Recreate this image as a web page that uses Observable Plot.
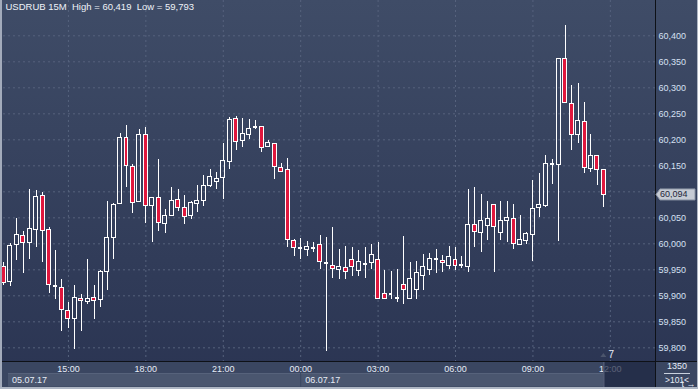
<!DOCTYPE html>
<html><head><meta charset="utf-8">
<script src="https://cdn.jsdelivr.net/npm/d3@7"></script>
<script src="https://cdn.jsdelivr.net/npm/@observablehq/plot@0.6"></script>
<style>
html,body{margin:0;padding:0;background:#2f3956;overflow:hidden}
#chart svg{display:block}
</style>
</head><body><div id="chart"></div>
<script>
// ---- data (USDRUB 15M, 05.07.17 12:30 -> 06.07.17 11:45) ----
const symbolTitle = "USDRUB 15M  High = 60,419  Low = 59,793";
const startTime = "2017-07-05T12:30:00Z";
const open = [59.956,59.926,59.998,60.015,60.002,60.027,60.092,60.027,59.918,59.915,59.871,59.856,59.894,59.888,59.896,59.892,59.946,60.012,60.077,60.204,60.148,60.081,60.210,60.073,60.088,60.038,60.054,60.085,60.069,60.054,60.077,60.083,60.112,60.119,60.127,60.158,60.240,60.198,60.210,60.225,60.225,60.187,60.192,60.146,60.142,60.006,59.992,59.988,59.992,59.998,59.964,59.958,59.950,59.954,59.969,59.948,59.961,59.963,59.969,59.904,59.904,59.896,59.921,59.893,59.911,59.938,59.950,59.971,59.967,59.958,59.969,59.960,59.955,60.037,60.021,60.035,60.075,60.021,60.044,60.048,59.998,60.006,60.017,60.069,60.073,60.153,60.152,60.356,60.269,60.210,60.235,60.144,60.169,60.142];
const high = [59.964,60.000,60.049,60.024,60.104,60.103,60.099,60.031,59.987,59.931,59.887,59.920,59.903,59.970,59.920,59.949,60.081,60.078,60.213,60.228,60.152,60.219,60.223,60.089,60.163,60.066,60.108,60.104,60.093,60.081,60.112,60.131,60.142,60.138,60.193,60.243,60.245,60.241,60.239,60.237,60.226,60.198,60.193,60.154,60.165,60.008,60.011,60.004,60.003,60.016,60.012,60.031,59.989,59.995,59.993,59.987,59.993,59.999,60.003,59.949,59.947,59.951,60.014,59.964,59.966,59.979,59.981,59.989,59.977,59.995,59.993,59.975,60.104,60.108,60.095,60.081,60.076,60.081,60.081,60.075,60.054,60.021,60.121,60.135,60.169,60.163,60.357,60.419,60.304,60.308,60.271,60.210,60.170,60.143];
const low = [59.920,59.918,59.967,59.943,59.970,59.993,59.965,59.904,59.893,59.832,59.838,59.797,59.832,59.884,59.855,59.878,59.911,59.970,60.076,60.109,60.059,60.080,60.040,60.003,60.024,60.020,60.053,60.063,60.038,60.047,60.060,60.072,60.108,60.105,60.086,60.143,60.180,60.185,60.201,60.219,60.175,60.186,60.124,60.137,59.992,59.976,59.970,59.976,59.984,59.951,59.793,59.934,59.932,59.932,59.938,59.938,59.934,59.950,59.893,59.892,59.892,59.888,59.884,59.892,59.893,59.911,59.940,59.942,59.944,59.950,59.948,59.952,59.945,59.993,59.984,60.007,59.945,60.007,60.002,59.990,59.998,59.998,59.966,60.050,60.069,60.115,60.005,60.270,60.180,60.192,60.136,60.138,60.113,60.070];
const close = [59.925,59.996,60.017,60.002,60.029,60.090,60.025,59.921,59.918,59.873,59.856,59.896,59.890,59.894,59.890,59.946,60.012,60.075,60.204,60.150,60.079,60.210,60.073,60.088,60.040,60.054,60.083,60.069,60.052,60.079,60.083,60.112,60.129,60.125,60.160,60.238,60.196,60.212,60.221,60.225,60.185,60.194,60.148,60.138,60.008,59.992,59.992,59.993,59.992,59.965,59.964,59.952,59.956,59.946,59.956,59.965,59.961,59.979,59.894,59.894,59.904,59.896,59.912,59.933,59.944,59.956,59.971,59.971,59.963,59.975,59.958,59.960,60.037,60.023,60.044,60.048,60.033,60.044,60.050,60.000,60.008,60.019,60.067,60.075,60.154,60.153,60.356,60.271,60.210,60.237,60.146,60.169,60.142,60.094];
const priceTicks = [59.80,59.85,59.90,59.95,60.00,60.05,60.10,60.15,60.20,60.25,60.30,60.35,60.40];
const timeTicks = ["2017-07-05T15:00Z","2017-07-05T18:00Z","2017-07-05T21:00Z","2017-07-06T00:00Z","2017-07-06T03:00Z","2017-07-06T06:00Z","2017-07-06T09:00Z","2017-07-06T12:00Z"];
const dateLabels = ["05.07.17","06.07.17"];
const dateStarts = ["2017-07-05T00:00Z","2017-07-06T00:00Z"];
const footerTop = "1350", footerBottom = ">101<", barMarker = "7";

// ---- build table ----
const t0 = new Date(startTime).getTime();
const data = open.map((o, i) => ({t: new Date(t0 + i * 15 * 60000), o, h: high[i], l: low[i], c: close[i]}));
const isDoji = d => Math.abs(d.o - d.c) < 0.0012;
const half = 4.6 * 60000;
const x1 = d => new Date(d.t.getTime() - half), x2 = d => new Date(d.t.getTime() + half);
const fmtP = v => d3.format(".3f")(v).replace(".", ",");
const RED = "#e0173d", WHITE = "#ffffff", GRID = "#56627d";
const tTicks = timeTicks.map(s => new Date(s));
const FONT = "'Liberation Sans', Arial, sans-serif";
const crisp = {shapeRendering: "crispEdges"};

const chart = Plot.plot({
  width: 698, height: 389,
  marginLeft: 3, marginRight: 43, marginTop: 0, marginBottom: 28,
  style: {background: "linear-gradient(#3f4c67, #2a3452)", fontFamily: FONT, fontSize: "9px", color: "#dbe4f4", overflow: "visible"},
  x: {type: "utc", domain: [new Date("2017-07-05T12:29:00Z"), new Date("2017-07-06T13:45:00Z")]},
  y: {domain: [59.7737, 60.4679]},
  marks: [
    Plot.gridY(priceTicks, {stroke: GRID, strokeOpacity: 1, strokeDasharray: "2,3"}),
    Plot.gridX(tTicks, {stroke: GRID, strokeOpacity: 1, strokeDasharray: "2,3"}),
    Plot.ruleX(data, {x: "t", y1: "h", y2: d => Math.max(d.o, d.c), stroke: WHITE, strokeWidth: 1, ...crisp}),
    Plot.ruleX(data, {x: "t", y1: d => Math.min(d.o, d.c), y2: "l", stroke: WHITE, strokeWidth: 1, ...crisp}),
    Plot.rect(data.filter(d => !isDoji(d) && d.c < d.o), {x1, x2, y1: "o", y2: "c", fill: RED, stroke: WHITE, strokeWidth: 1, ...crisp}),
    Plot.rect(data.filter(d => !isDoji(d) && d.c >= d.o), {x1, x2, y1: "o", y2: "c", fill: "none", stroke: WHITE, strokeWidth: 1, ...crisp}),
    Plot.ruleY(data.filter(isDoji), {y: "c", x1, x2, stroke: WHITE, strokeWidth: 2, ...crisp}),
    Plot.axisY(priceTicks, {anchor: "right", tickSize: 0, tickPadding: 3, tickFormat: fmtP, fill: "#d6e0f2"}),
    Plot.axisX(tTicks, {anchor: "bottom", tickSize: 0, tickPadding: 4, tickFormat: d3.utcFormat("%H:%M"), fill: "#e6ecf7"}),
    Plot.text([symbolTitle], {frameAnchor: "top-left", dx: 2, dy: 3, lineAnchor: "top", textAnchor: "start", fill: "#eef2f8", fontSize: 9.5, text: d => d})
  ]
});

// ---- chrome decorations ----
const svg = d3.select(chart);
const X = chart.scale("x"), Y = chart.scale("y");
const W = 698, H = 389, xR = 655, yB = 361;
const lastX = X.apply(data[data.length - 1].t);
const mid = X.apply(new Date(dateStarts[1]));

const bg = svg.insert("g", ":first-child");
bg.append("rect").attr("x", 0).attr("y", yB).attr("width", W).attr("height", H - yB).attr("fill", "#3a4661");
const boxes = [[8, mid], [mid + 1, lastX]];
boxes.forEach(([a, b]) => {
  bg.append("rect").attr("x", a).attr("y", 373.5).attr("width", b - a).attr("height", 13).attr("fill", "#4a566f");
  bg.append("line").attr("x1", a).attr("x2", b).attr("y1", 373.5).attr("y2", 373.5).attr("stroke", "#56627b");
});

const fg = svg.append("g").attr("font-family", FONT).attr("font-size", 9).attr("text-anchor", "start");
dateLabels.forEach((s, i) => {
  const a = boxes[i][0];
  fg.append("text").attr("x", a + 4).attr("y", 380.5).attr("text-anchor", "start").attr("dominant-baseline", "middle").attr("fill", "#e6ecf6").text(s);
});
// future region
fg.append("rect").attr("x", lastX).attr("y", yB).attr("width", xR - lastX).attr("height", H - yB).attr("fill", "#1c2540").attr("opacity", 0.7);
fg.append("line").attr("x1", lastX + 0.5).attr("x2", lastX + 0.5).attr("y1", yB).attr("y2", H).attr("stroke", "#646e86");
// bar marker
fg.append("path").attr("d", `M${lastX - 3},357 L${lastX + 3},357 L${lastX},353 Z`).attr("fill", "#4b556c");
fg.append("text").attr("x", lastX + 5).attr("y", 355).attr("text-anchor", "start").attr("dominant-baseline", "middle").attr("fill", "#e8eef8").attr("font-size", 10).text(barMarker);
// frame lines
fg.append("line").attr("x1", 0).attr("x2", W).attr("y1", yB + 0.5).attr("y2", yB + 0.5).attr("stroke", "#0e1117");
fg.append("line").attr("x1", xR + 0.5).attr("x2", xR + 0.5).attr("y1", 0).attr("y2", H).attr("stroke", "#0e1117");
// footer right
fg.append("text").attr("x", 677).attr("y", 367).attr("text-anchor", "middle").attr("dominant-baseline", "middle").attr("fill", "#e6ecf6").text(footerTop);
fg.append("line").attr("x1", 664).attr("x2", 690).attr("y1", 373.5).attr("y2", 373.5).attr("stroke", "#c9d1de");
fg.append("text").attr("x", 677).attr("y", 381).attr("text-anchor", "middle").attr("dominant-baseline", "middle").attr("fill", "#e6ecf6").attr("font-size", 8.5).text(footerBottom);
// last price tag (covers the 60,100 axis label as in the original)
const lp = close[close.length - 1], ly = Y.apply(lp);
fg.append("path").attr("d", `M${xR + 1},${ly} L${xR + 5},${ly - 5.5} L695,${ly - 5.5} L695,${ly + 5.5} L${xR + 5},${ly + 5.5} Z`).attr("fill", "#c6cbd4").attr("stroke", "#8c95a6");
fg.append("text").attr("x", 660).attr("y", ly + 0.5).attr("text-anchor", "start").attr("dominant-baseline", "middle").attr("fill", "#1f2639").text(fmtP(lp));
// outer border
fg.append("rect").attr("x", 0).attr("y", 0).attr("width", 2).attr("height", H).attr("fill", "#a3abbb");
fg.append("rect").attr("x", 0).attr("y", H - 2).attr("width", W).attr("height", 2).attr("fill", "#aeb6c4");
fg.append("rect").attr("x", W - 1).attr("y", 0).attr("width", 1).attr("height", H).attr("fill", "#aeb6c4");

// hide the axis label that sits under the price tag
svg.selectAll("text").filter(function() { return this.textContent === fmtP(60.1) && this.closest("g") !== fg.node(); }).attr("opacity", 0);

document.getElementById("chart").appendChild(chart);
</script></body></html>
